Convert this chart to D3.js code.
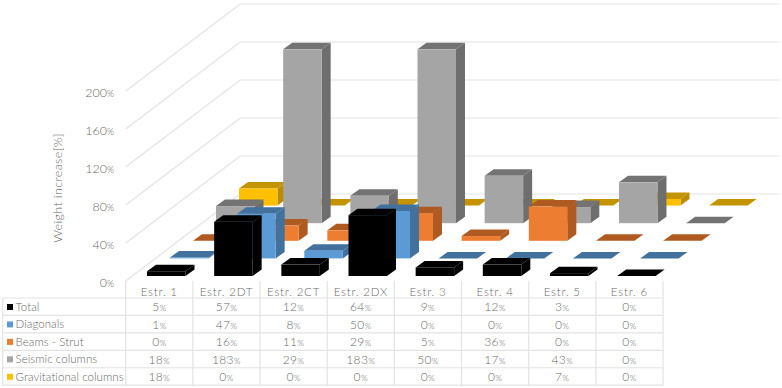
<!DOCTYPE html>
<html><head><meta charset="utf-8">
<script src="https://cdn.jsdelivr.net/npm/d3@7"></script>
<style>html,body{margin:0;padding:0;background:#fff}svg{display:block}
text{font-family:Lato,sans-serif;font-weight:300;fill:#6a6a6a}</style></head><body>
<svg id="c" width="782" height="388"></svg>
<script>
const categories = ["Estr. 1","Estr. 2DT","Estr. 2CT","Estr. 2DX","Estr. 3","Estr. 4","Estr. 5","Estr. 6"];
const seriesNames = ["Total","Diagonals","Beams - Strut","Seismic columns","Gravitational columns"];
const total = [5,57,12,64,9,12,3,0];
const diagonals = [1,47,8,50,0,0,0,0];
const beams = [0,16,11,29,5,36,0,0];
const seismic = [18,183,29,183,50,17,43,0];
const gravitational = [18,0,0,0,0,0,7,0];
const seriesValues = [total,diagonals,beams,seismic,gravitational];
const frontColors = ["#000000","#5b9bd5","#ed7d31","#a5a5a5","#ffc000"];
const darkColors = ["#000000","#41719c","#ae5a21","#737373","#c49300"];
const sideColors = ["#000000","#41719c","#ae5a21","#6e6e6e","#bb8c00"];
const yTicks = [0,40,80,120,160,200];

const svg = d3.select("#c");
const plotLeft=125.7, plotRight=663, base=281;
const x = d3.scaleBand().domain(categories).range([plotLeft,plotRight]);
const y = d3.scaleLinear().domain([0,200]).range([0,190]);
const depth = d3.scalePoint().domain(seriesNames).range([0,4]);
const stepX=23, stepY=17.6, wallDX=114.5, wallDY=87;
const barW=38.5, barOff=21.3, barBase=276, sideX=9, sideY=6.5;
const grid="#e3e3e3";

// walls
yTicks.forEach(t=>{
  const yy=base-y(t);
  svg.append("path").attr("fill","none").attr("stroke",grid).attr("stroke-width",1.2)
    .attr("d",`M${plotLeft},${yy}L${plotLeft+wallDX},${yy-wallDY}L${plotRight+wallDX+2},${yy-wallDY}`);
});

// bars, back to front
const poly=pts=>pts.map(p=>p.join(",")).join(" ");
d3.range(seriesNames.length-1,-1,-1).forEach(si=>{
  const name=seriesNames[si], d=depth(name);
  const g=svg.append("g").attr("class","series");
  categories.forEach((c,ci)=>{
    const v=seriesValues[si][ci];
    const xl=x(c)+barOff+d*stepX, xr=xl+barW;
    const yb=barBase-d*stepY, yt=yb-y(v);
    g.append("polygon").attr("fill",sideColors[si])
      .attr("points",poly([[xr,yb],[xr+sideX,yb-sideY],[xr+sideX,yt-sideY],[xr,yt]]));
    g.append("polygon").attr("fill",darkColors[si])
      .attr("points",poly([[xl,yt],[xr,yt],[xr+sideX,yt-sideY],[xl+sideX,yt-sideY]]));
    if(v>0) g.append("rect").attr("fill",frontColors[si])
      .attr("x",xl).attr("y",yt).attr("width",barW).attr("height",yb-yt);
  });
});

// value axis labels
const pct=(sel,val,size)=>{ sel.text(null);
  sel.append("tspan").text(val);
  sel.append("tspan").attr("font-size",size*0.72).text("%"); };
yTicks.forEach(t=>{
  svg.append("text").attr("x",114).attr("y",base-y(t)+5.5).attr("text-anchor","end")
    .attr("font-size",12.5).call(pct,t,12.5);
});
svg.append("text").attr("transform","translate(62,188) rotate(-90)").attr("text-anchor","middle")
  .attr("font-size",12.5).attr("letter-spacing",0.35).text("Weight increase[%]");

// data table
const tableLeft=2.7, rowTop=298, rowH=17.44;
const tl=svg.append("g").attr("stroke",grid).attr("stroke-width",1.2);
d3.range(seriesNames.length+1).forEach(i=>{
  tl.append("line").attr("x1",tableLeft).attr("x2",plotRight)
    .attr("y1",rowTop+i*rowH).attr("y2",rowTop+i*rowH);
});
tl.append("line").attr("x1",tableLeft).attr("x2",tableLeft).attr("y1",rowTop).attr("y2",rowTop+5*rowH);
[...categories.map(c=>x(c)),plotRight].forEach(px=>{
  tl.append("line").attr("x1",px).attr("x2",px).attr("y1",base).attr("y2",rowTop+5*rowH);
});
categories.forEach(c=>{
  svg.append("text").attr("x",x(c)+x.bandwidth()/2).attr("y",rowTop-2).attr("text-anchor","middle")
    .attr("font-size",11.5).attr("letter-spacing",0.8).text(c);
});
seriesNames.forEach((n,si)=>{
  const ry=rowTop+si*rowH;
  svg.append("rect").attr("x",7).attr("y",ry+6).attr("width",6).attr("height",6).attr("fill",frontColors[si]);
  svg.append("text").attr("x",15.5).attr("y",ry+13).attr("font-size",11.5).attr("letter-spacing",0.05).text(n);
  categories.forEach((c,ci)=>{
    svg.append("text").attr("x",x(c)+x.bandwidth()/2).attr("y",ry+13.3).attr("text-anchor","middle")
      .attr("font-size",12).attr("letter-spacing",0.3).call(pct,seriesValues[si][ci],12);
  });
});
</script></body></html>
